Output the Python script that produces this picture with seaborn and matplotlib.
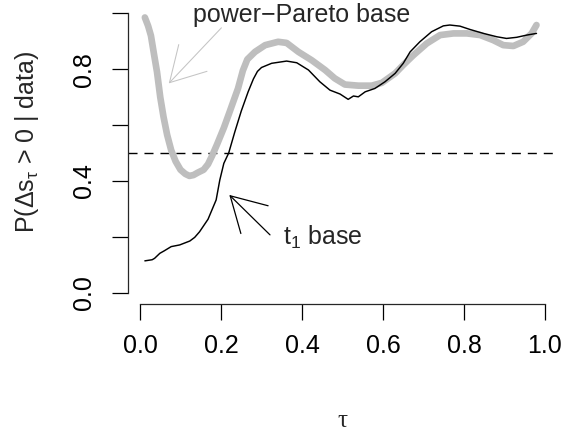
import numpy as np
import pandas as pd
import matplotlib
matplotlib.use("Agg")
import matplotlib.pyplot as plt
import seaborn as sns

# power-Pareto base (gray thick curve)
pp_tau = [0.012, 0.020, 0.027, 0.035, 0.042, 0.050, 0.058, 0.067, 0.077, 0.088,
          0.100, 0.112, 0.122, 0.132, 0.143, 0.157, 0.168, 0.178, 0.190, 0.207,
          0.222, 0.242, 0.254, 0.265, 0.284, 0.309, 0.341, 0.362, 0.391, 0.424,
          0.457, 0.481, 0.506, 0.539, 0.572, 0.597, 0.630, 0.650, 0.675, 0.708,
          0.741, 0.774, 0.807, 0.840, 0.872, 0.897, 0.922, 0.946, 0.967, 0.979]
pp_prob = [0.985, 0.955, 0.920, 0.850, 0.790, 0.700, 0.630, 0.565, 0.510, 0.470,
           0.440, 0.425, 0.418, 0.421, 0.430, 0.440, 0.460, 0.490, 0.530, 0.590,
           0.650, 0.731, 0.795, 0.835, 0.862, 0.886, 0.898, 0.894, 0.862, 0.832,
           0.797, 0.767, 0.745, 0.741, 0.741, 0.751, 0.785, 0.815, 0.850, 0.892,
           0.922, 0.928, 0.928, 0.922, 0.904, 0.886, 0.883, 0.898, 0.928, 0.958]

# t1 base (black thin curve)
t1_tau = [0.012, 0.030, 0.036, 0.049, 0.060, 0.077, 0.098, 0.123, 0.135, 0.147,
          0.168, 0.188, 0.197, 0.207, 0.219, 0.234, 0.250, 0.267, 0.280, 0.290,
          0.300, 0.325, 0.362, 0.387, 0.416, 0.444, 0.469, 0.494, 0.514, 0.527,
          0.539, 0.556, 0.580, 0.605, 0.630, 0.650, 0.667, 0.691, 0.720, 0.749,
          0.765, 0.790, 0.815, 0.848, 0.881, 0.905, 0.930, 0.955, 0.979]
t1_prob = [0.114, 0.118, 0.123, 0.141, 0.150, 0.165, 0.171, 0.185, 0.198, 0.218,
           0.263, 0.332, 0.403, 0.463, 0.500, 0.575, 0.650, 0.719, 0.765, 0.792,
           0.806, 0.821, 0.829, 0.823, 0.797, 0.755, 0.725, 0.711, 0.692, 0.704,
           0.701, 0.719, 0.731, 0.755, 0.785, 0.821, 0.862, 0.898, 0.934, 0.955,
           0.958, 0.954, 0.942, 0.928, 0.916, 0.910, 0.914, 0.922, 0.928]

x_ticks = [0.0, 0.2, 0.4, 0.6, 0.8, 1.0]
x_ticklabels = ["0.0", "0.2", "0.4", "0.6", "0.8", "1.0"]
y_ticks = [0.0, 0.2, 0.4, 0.6, 0.8, 1.0]
y_ticklabels = ["0.0", "", "0.4", "", "0.8", ""]

sns.set_style("ticks")
plt.rcParams["font.family"] = ["Liberation Sans", "DejaVu Sans"]
plt.rcParams["mathtext.fontset"] = "custom"
plt.rcParams["mathtext.rm"] = "Liberation Sans"
plt.rcParams["mathtext.it"] = "Liberation Sans:italic"

FS = 18
fig = plt.figure(figsize=(5.63, 4.32), dpi=100)
W, H = 563, 432
ax = fig.add_axes([128 / W, (H - 304) / H, (557 - 128) / W, (304 - 2) / H])

pp_df = pd.DataFrame({"tau": pp_tau, "prob": pp_prob})
t1_df = pd.DataFrame({"tau": t1_tau, "prob": t1_prob})

ax.axhline(0.5, color="black", lw=1.0, ls=(0, (6.5, 5)))
sns.lineplot(data=pp_df, x="tau", y="prob", ax=ax, color="#BEBEBE", lw=4.8,
             sort=False, solid_capstyle="round", solid_joinstyle="round")
sns.lineplot(data=t1_df, x="tau", y="prob", ax=ax, color="black", lw=1.05,
             sort=False)

ax.set_xlim(-0.02963, 1.02963)
ax.set_ylim(-0.0404, 1.0404)

for s in ["top", "right"]:
    ax.spines[s].set_visible(False)
ax.spines["left"].set_bounds(0, 1)
ax.spines["bottom"].set_bounds(0, 1)
for s in ["left", "bottom"]:
    ax.spines[s].set_linewidth(0.9)

ax.set_xticks(x_ticks)
ax.set_xticklabels(x_ticklabels)
ax.set_yticks(y_ticks)
ax.set_yticklabels(y_ticklabels)
ax.tick_params(axis="both", length=11.2, width=0.9, labelsize=FS, color="black",
               labelcolor="black")
ax.tick_params(axis="x", pad=10.5)
ax.tick_params(axis="y", pad=11.5)
for lab in ax.get_yticklabels():
    lab.set_rotation(90)
    lab.set_va("center")

ax.set_xlabel("τ", fontsize=FS, family=["Liberation Serif", "DejaVu Serif"])
ax.xaxis.label.set_va("center")
ax.xaxis.set_label_coords(0.5, (304 - 421) / 302)
ax.set_ylabel(r"P(Δs$_{\mathregular{τ}}$ > 0 | data)", fontsize=FS)
ax.yaxis.label.set_va("center")
ax.yaxis.label.set_ha("center")
ax.yaxis.set_label_coords((27 - 128) / 429, (304 - 142) / 302)

# annotations
ax.annotate("", xy=(0.071, 0.749), xytext=(0.201, 0.948),
            arrowprops=dict(arrowstyle="->,head_length=2.45,head_width=1.4",
                            color="#C4C4C4", lw=0.75, shrinkA=0, shrinkB=0,
                            mutation_scale=10))
ax.text(0.398, 0.9696, "power−Pareto base", fontsize=FS, ha="center",
        va="baseline")

ax.annotate("", xy=(0.2205, 0.350), xytext=(0.321, 0.207),
            arrowprops=dict(arrowstyle="->,head_length=2.45,head_width=1.4",
                            color="black", lw=0.9, shrinkA=0, shrinkB=0,
                            mutation_scale=10))
ax.text(0.353, 0.1707, r"t$_{1}$ base", fontsize=FS, ha="left", va="baseline")

fig.savefig("out.png", dpi=100)
